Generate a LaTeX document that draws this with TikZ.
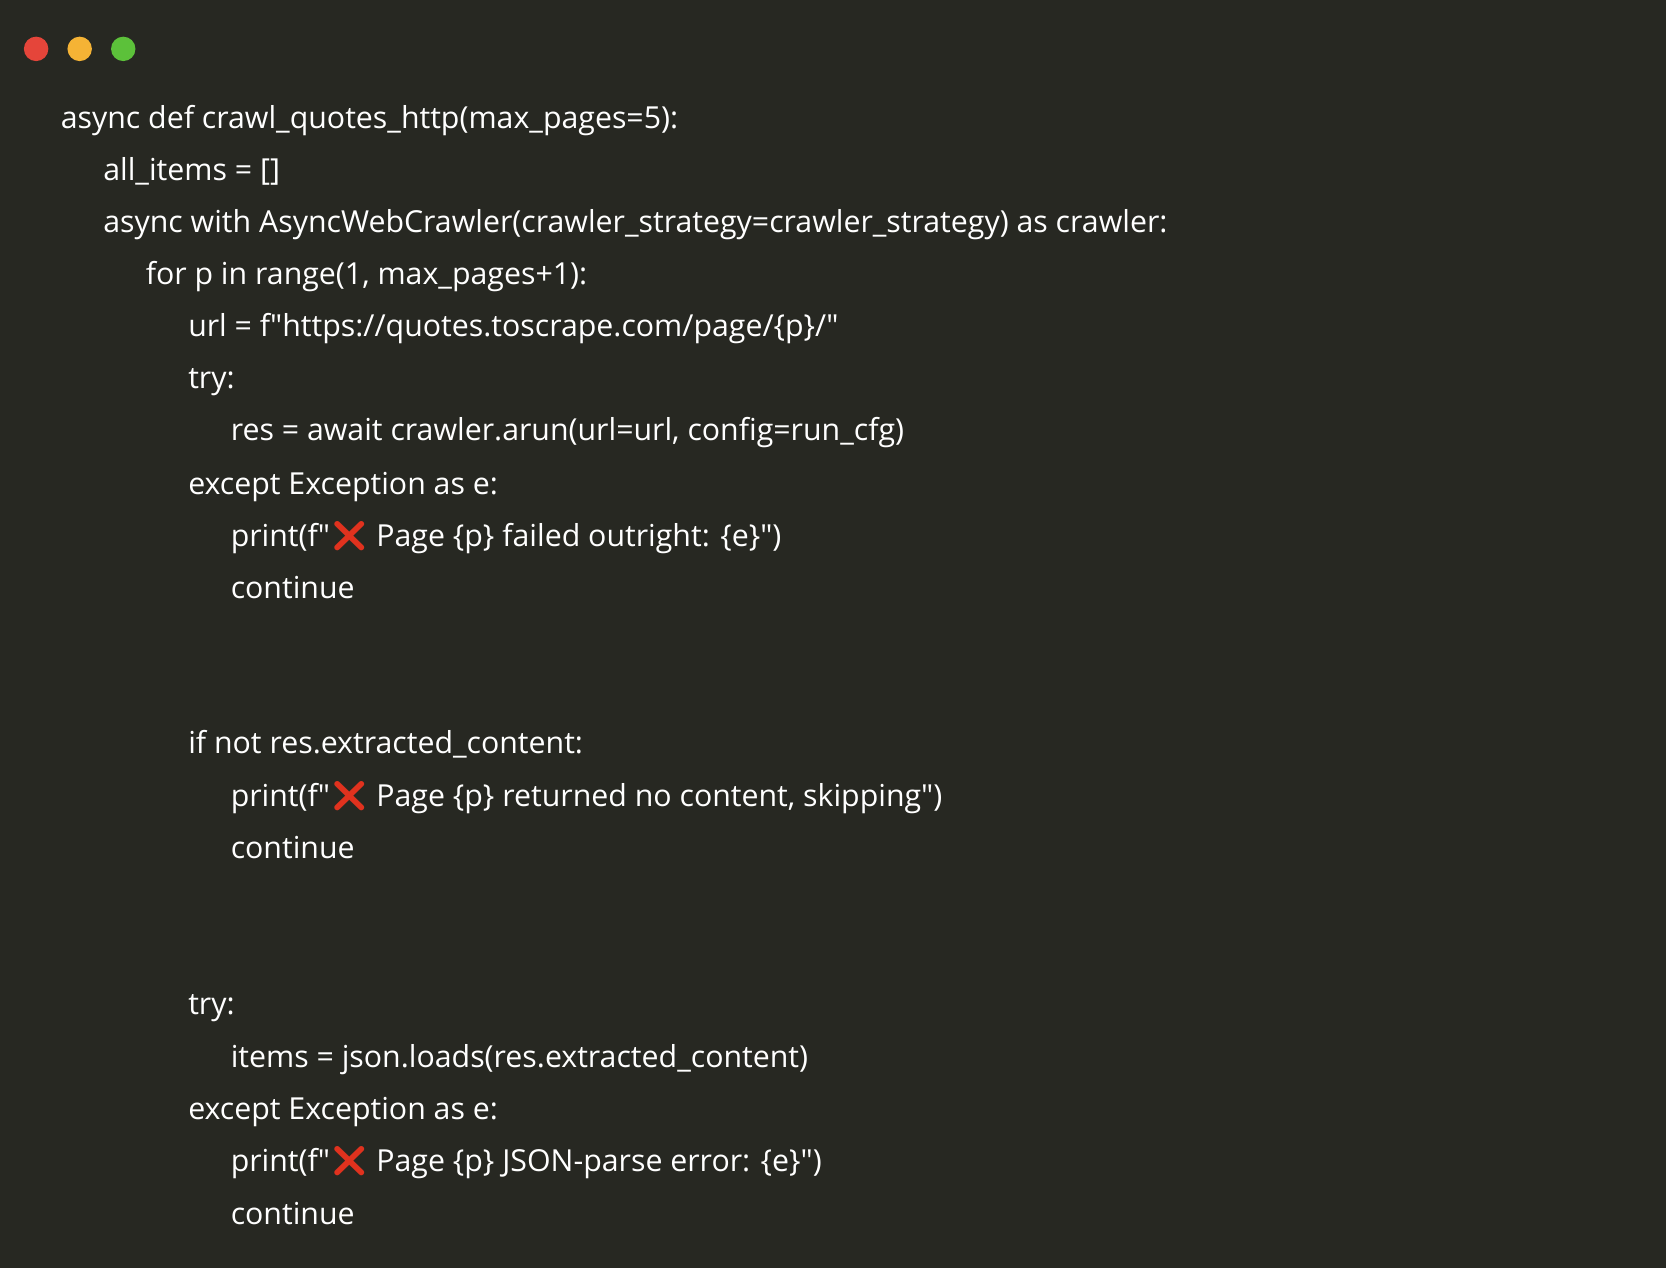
\documentclass[tikz,border=0pt]{standalone}
\usepackage{fontspec}
\setmainfont[Ligatures=ResetAll]{Open Sans}
\newfontfamily\qfont{Open Sans}
\newfontfamily\emojifont{Noto Emoji}
\definecolor{bg}{HTML}{272822}
\definecolor{xred}{HTML}{E0321E}
\definecolor{dred}{HTML}{E5453A}
\definecolor{dyel}{HTML}{F5B335}
\definecolor{dgrn}{HTML}{5CC13A}
\newcommand{\xmark}{{\emojifont\textcolor{xred}{❌}}}
\newcommand{\dq}{{\qfont\symbol{34}}}
\begin{document}
\begin{tikzpicture}[x=1.0625pt,y=-1.0625pt,
  code/.style={anchor=base west,inner sep=0pt,text=white,font=\fontsize{30.3}{34}\selectfont}]
\fill[bg] (0,0) rectangle (1568,1193.4);
\useasboundingbox (0,0) rectangle (1568,1193.4);
\fill[dred] (34,46) circle (11.5);
\fill[dyel] (75,46) circle (11.5);
\fill[dgrn] (116,46) circle (11.5);
\def\bl{9}
\node[code] (l0) at (57,112+\bl) {async def crawl\_quotes\_http(max\_pages=5):};
\node[code] (l1) at (97,161+\bl) {all\_items = []};
\node[code] (l2) at (97,210+\bl) {async with AsyncWebCrawler(crawler\_strategy=crawler\_strategy) as crawler:};
\node[code] (l3) at (137,259+\bl) {for p in range(1, max\_pages+1):};
\node[code] (l4) at (177,308+\bl) {url = f\dq https://quotes.toscrape.com/page/\{p\}/\dq};
\node[code] (l5) at (177,357+\bl) {try:};
\node[code] (l6) at (217,406+\bl) {res = await crawler.arun(url=url, config=run\_cfg)};
\node[code] (l7) at (177,456+\bl) {except Exception as e:};
\node[code] (l8) at (217,505+\bl) {print(f\dq\xmark\ Page \{p\} failed outright: \{e\}\dq)};
\node[code] (l9) at (217,554+\bl) {continue};
\node[code] (l12) at (177,700+\bl) {if not res.extracted\_content:};
\node[code] (l13) at (217,750+\bl) {print(f\dq\xmark\ Page \{p\} returned no content, skipping\dq)};
\node[code] (l14) at (217,799+\bl) {continue};
\node[code] (l17) at (177,946+\bl) {try:};
\node[code] (l18) at (217,996+\bl) {items = json.loads(res.extracted\_content)};
\node[code] (l19) at (177,1045+\bl) {except Exception as e:};
\node[code] (l20) at (217,1094+\bl) {print(f\dq\xmark\ Page \{p\} JSON-parse error: \{e\}\dq)};
\node[code] (l21) at (217,1143+\bl) {continue};
\end{tikzpicture}
\end{document}
